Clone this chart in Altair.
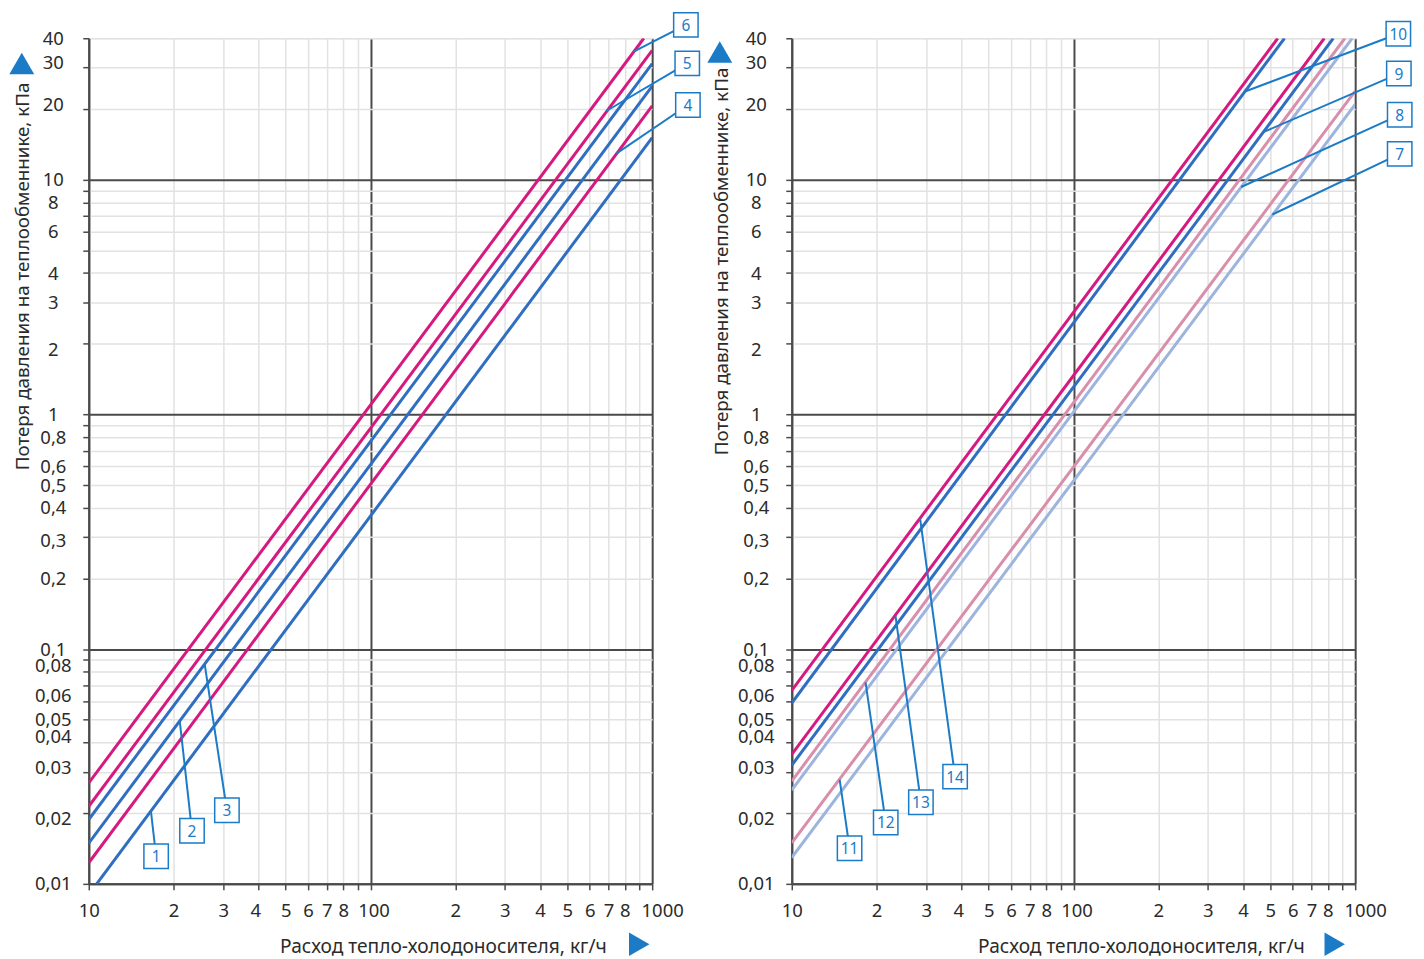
import json
import altair as alt
import pandas as pd

FONT = "Noto Sans"

# ---------------- axes ----------------
X_TICKS = [10, 20, 30, 40, 50, 60, 70, 80, 90,
           100, 200, 300, 400, 500, 600, 700, 800, 900, 1000]
X_LABELS = ["10", "2", "3", "4", "5", "6", "7", "8", "",
            "100", "2", "3", "4", "5", "6", "7", "8", "", "1000"]
X_MAJOR = [10, 100, 1000]

Y_TICKS = [0.01, 0.02, 0.03, 0.04, 0.05, 0.06, 0.07, 0.08, 0.09,
           0.1, 0.2, 0.3, 0.4, 0.5, 0.6, 0.7, 0.8, 0.9,
           1, 2, 3, 4, 5, 6, 7, 8, 9,
           10, 20, 30, 40]
Y_LABELS = ["0,01", "0,02", "0,03", "0,04", "0,05", "0,06", "", "0,08", "",
            "0,1", "0,2", "0,3", "0,4", "0,5", "0,6", "", "0,8", "",
            "1", "2", "3", "4", "", "6", "", "8", "",
            "10", "20", "30", "40"]
Y_MAJOR = [0.01, 0.1, 1, 10]

X_TITLE = "Расход тепло-холодоносителя, кг/ч"
Y_TITLE = "Потеря давления на теплообменнике, кПа"

# ---------------- left panel curves ----------------
L_IDS = ["1", "4", "2", "3", "5", "6"]
L_KIND = ["blue", "magenta", "blue", "blue", "magenta", "magenta"]
L_X0 = [10.67, 10, 10, 10, 10, 10]
L_Y0 = [0.01, 0.0123, 0.0149, 0.0188, 0.0214, 0.0269]
L_X1 = [1000, 1000, 1000, 1000, 1000, 934]
L_Y1 = [15.1, 20.6, 25.0, 31.2, 35.5, 40]

# left panel callouts: box position and point on the curve (data units)
L_TAG = ["1", "2", "3", "4", "5", "6"]
L_TAG_X = [17.34, 23.25, 30.93, 1339, 1332, 1317]
L_TAG_Y = [0.01311, 0.01683, 0.02058, 20.78, 31.26, 45.6]
L_PIN_X = [16.62, 21.05, 25.8, 745.8, 687.6, 856.3]
L_PIN_Y = [0.0204, 0.049, 0.086, 12.9, 19.6, 35.0]

# ---------------- right panel curves ----------------
R_IDS = ["14", "10", "13", "9", "12", "8", "11", "7"]
R_KIND = ["magenta", "blue", "magenta", "blue", "pink", "lightblue", "pink", "lightblue"]
R_X0 = [10, 10, 10, 10, 10, 10, 10, 10]
R_Y0 = [0.0667, 0.0589, 0.0356, 0.0320, 0.0274, 0.0251, 0.01494, 0.01294]
R_X1 = [531, 561, 777, 836, 919, 976, 1000, 1000]
R_Y1 = [40, 40, 40, 40, 40, 40, 23.8, 20.9]

R_TAG = ["11", "12", "13", "14", "10", "9", "8", "7"]
R_TAG_X = [16.04, 21.55, 28.73, 38.0, 1423, 1429, 1439, 1439]
R_TAG_Y = [0.01419, 0.01826, 0.02226, 0.02862, 41.8, 28.29, 18.88, 12.87]
R_PIN_X = [14.79, 18.28, 23.34, 28.55, 408.9, 476.3, 393.9, 508.3]
R_PIN_Y = [0.0278, 0.0722, 0.139, 0.36, 23.8, 16.0, 9.30, 7.1]

KINDS = ["magenta", "blue", "pink", "lightblue"]
KIND_COLORS = ["#d6197e", "#2f6ec0", "#d98eab", "#9db4df"]
TAG_BLUE = "#1b7bc7"
DARK = "#4a4a4a"
MINOR = "#e2e2e2"
TEXT = "#2b2b2b"

# label nudges (styling: pixels along the axis), as in the original layout
X_NUDGE = {40: -3, 100: 3, 1000: 10}
Y_NUDGE = {30: -5, 20: -4, 2: 6, 0.3: 3, 0.08: -6, 0.06: -6, 0.04: -6, 0.03: -4, 0.02: 5}

W, H = 565, 848


def major_test(vals):
    return " || ".join(f"datum.value == {v}" for v in vals)


def nudge(d):
    return {"condition": [{"test": f"datum.value == {k}", "value": v} for k, v in d.items()],
            "value": 0}


def x_enc(title_x):
    return alt.X(
        "x:Q",
        scale=alt.Scale(type="log", domain=[10, 1000], nice=False),
        axis=alt.Axis(
            values=X_TICKS,
            labelExpr=f"{json.dumps(X_LABELS)}[indexof({json.dumps(X_TICKS)}, datum.value)]",
            labelOverlap=False, labelFlush=False, labelBound=False,
            labelFont=FONT, labelFontSize=18.5, labelColor=TEXT, labelPadding=12,
            labelOffset=nudge(X_NUDGE),
            tickSize=6, tickColor=DARK, tickWidth=1.5,
            domainColor=DARK, domainWidth=2,
            grid=True,
            gridColor={"condition": {"test": major_test(X_MAJOR), "value": DARK}, "value": MINOR},
            gridWidth={"condition": {"test": major_test(X_MAJOR), "value": 2}, "value": 1.5},
            title=X_TITLE, titleFont=FONT, titleFontSize=19.2, titleFontWeight="normal",
            titleColor=TEXT, titleAlign="right", titleBaseline="alphabetic",
            titleX=title_x, titleY=69,
        ),
    )


def y_enc(title_x, title_y):
    return alt.Y(
        "y:Q",
        scale=alt.Scale(type="log", domain=[0.01, 40], nice=False),
        axis=alt.Axis(
            values=Y_TICKS,
            labelExpr=f"{json.dumps(Y_LABELS)}[indexof({json.dumps(Y_TICKS)}, datum.value)]",
            labelOverlap=False, labelFlush=False, labelBound=False,
            labelFont=FONT, labelFontSize=18.5, labelColor=TEXT,
            labelAlign="center", labelPadding=30, labelOffset=nudge(Y_NUDGE),
            tickSize=6, tickColor=DARK, tickWidth=1.5,
            domainColor=DARK, domainWidth=2,
            grid=True,
            gridColor={"condition": {"test": major_test(Y_MAJOR), "value": DARK}, "value": MINOR},
            gridWidth={"condition": {"test": major_test(Y_MAJOR), "value": 2}, "value": 1.5},
            title=Y_TITLE, titleFont=FONT, titleFontSize=18.8, titleFontWeight="normal",
            titleColor=TEXT, titleAlign="right", titleBaseline="alphabetic",
            titleAngle=270, titleX=title_x, titleY=title_y,
        ),
    )


def curves_df(ids, kinds, x0, y0, x1, y1):
    rows = []
    for i, k, a, b, c, d in zip(ids, kinds, x0, y0, x1, y1):
        rows.append({"id": i, "kind": k, "x": a, "y": b, "o": 0})
        rows.append({"id": i, "kind": k, "x": c, "y": d, "o": 1})
    return pd.DataFrame(rows)


def tags_df(tags, tx, ty, px, py):
    return pd.DataFrame({"t": tags, "x": tx, "y": ty, "x2": px, "y2": py})


def panel(cdf, tdf, ytx, yty, xtx, up_xy, right_x):
    X = x_enc(xtx)
    Y = y_enc(ytx, yty)
    lines = alt.Chart(cdf).mark_line(strokeWidth=3, clip=True).encode(
        x=X, y=Y, detail="id:N", order="o:Q",
        color=alt.Color("kind:N", scale=alt.Scale(domain=KINDS, range=KIND_COLORS), legend=None),
    )
    base = alt.Chart(tdf)
    leaders = base.mark_rule(color=TAG_BLUE, strokeWidth=2).encode(
        x=X, y=Y, x2=alt.X2("x2:Q"), y2=alt.Y2("y2:Q"))
    boxes = base.mark_point(shape="square", size=600, filled=True, fill="white",
                            stroke=TAG_BLUE, strokeWidth=1.5, opacity=1).encode(x=X, y=Y)
    labels = base.mark_text(font=FONT, fontSize=15.5, color=TAG_BLUE, baseline="middle",
                            align="center", dy=1).encode(x=X, y=Y, text="t:N")
    one = pd.DataFrame({"a": [0]})
    tri_up = alt.Chart(one).mark_point(shape="triangle-up", size=625, filled=True,
                                       color=TAG_BLUE, opacity=1).encode(
        x=alt.value(up_xy[0]), y=alt.value(up_xy[1]))
    tri_right = alt.Chart(one).mark_point(shape="triangle-right", size=560, filled=True,
                                          color=TAG_BLUE, opacity=1).encode(
        x=alt.value(right_x), y=alt.value(H + 60.5))
    return alt.layer(lines, leaders, boxes, labels, tri_up, tri_right).properties(width=W, height=H)


left = panel(curves_df(L_IDS, L_KIND, L_X0, L_Y0, L_X1, L_Y1),
             tags_df(L_TAG, L_TAG_X, L_TAG_Y, L_PIN_X, L_PIN_Y),
             ytx=-60, yty=44, xtx=519, up_xy=(-67.2, 25.3), right_x=552)
right = panel(curves_df(R_IDS, R_KIND, R_X0, R_Y0, R_X1, R_Y1),
              tags_df(R_TAG, R_TAG_X, R_TAG_Y, R_PIN_X, R_PIN_Y),
              ytx=-64, yty=29, xtx=514, up_xy=(-72.2, 13.8), right_x=544.5)

chart = alt.hconcat(left, right, spacing=140, bounds="flush").properties(
    padding={"left": 0, "top": -1, "right": 0, "bottom": 0}
).configure_view(stroke=None).configure(background="white")

chart.save("out.html", embed_options={"renderer": "svg", "actions": False})
